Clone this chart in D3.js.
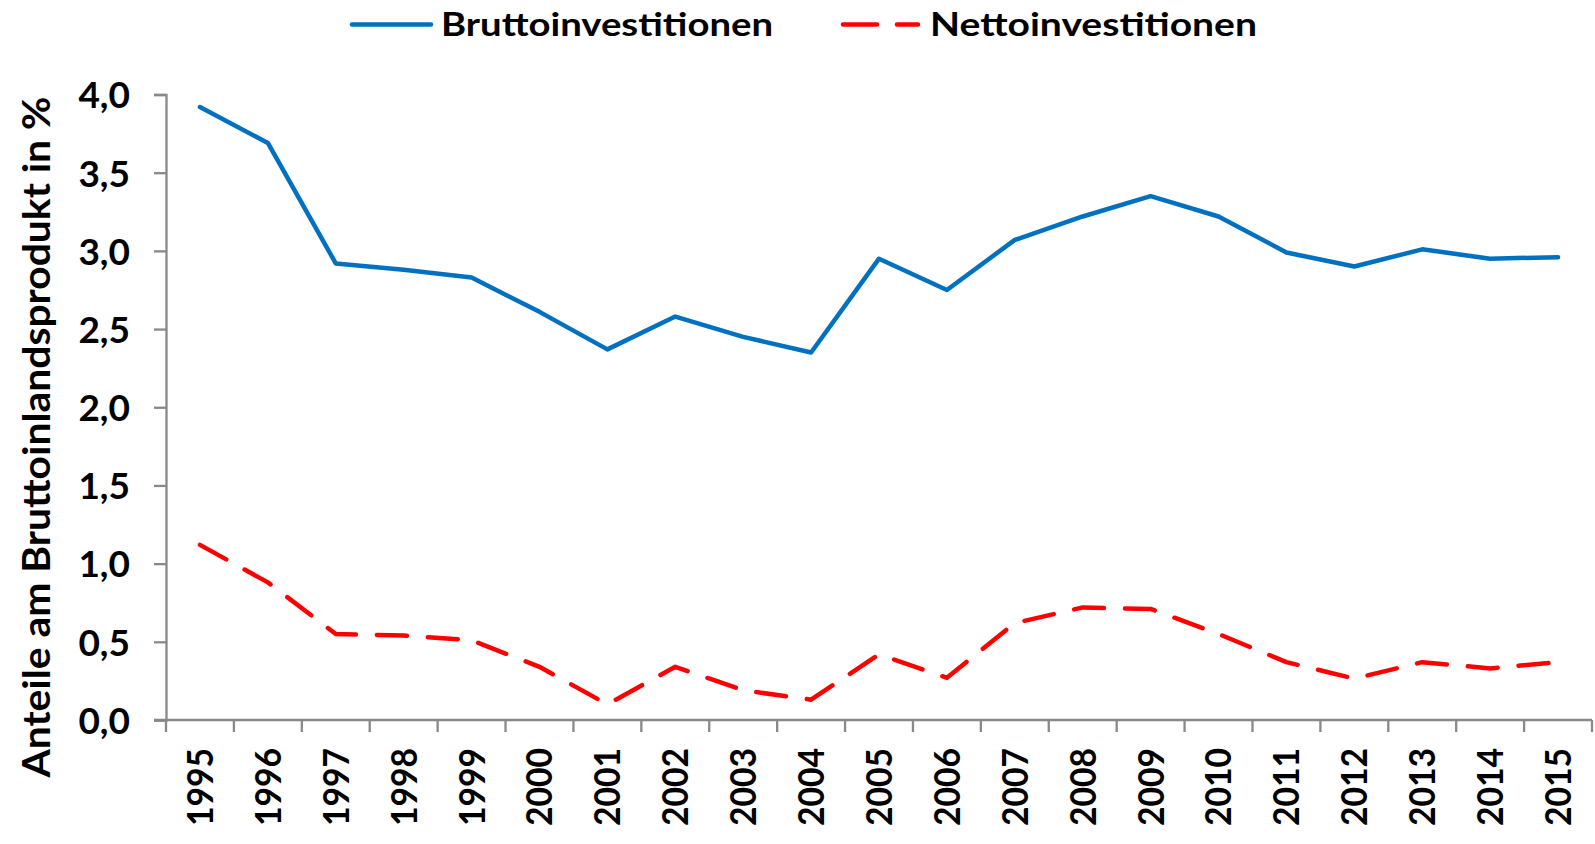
<!DOCTYPE html>
<html>
<head>
<meta charset="utf-8">
<script src="https://cdn.jsdelivr.net/npm/d3@7"></script>
<style>
    html, body { margin: 0; padding: 0; background: #fff; }
    text { font-family: "Lato", "Open Sans", sans-serif; font-weight: 700; fill: #000; }
</style>
</head>
<body>
<div id="chart"></div>
<script>
const years = ["1995", "1996", "1997", "1998", "1999", "2000", "2001", "2002", "2003", "2004", "2005",
    "2006", "2007", "2008", "2009", "2010", "2011", "2012", "2013", "2014", "2015"];
const brutto = [3.92, 3.69, 2.92, 2.88, 2.83, 2.61, 2.37, 2.58, 2.45, 2.35, 2.95,
    2.75, 3.07, 3.22, 3.35, 3.22, 2.99, 2.90, 3.01, 2.95, 2.96];
const netto = [1.12, 0.88, 0.55, 0.54, 0.51, 0.34, 0.10, 0.34, 0.19, 0.13, 0.42,
    0.27, 0.62, 0.72, 0.71, 0.55, 0.37, 0.265, 0.37, 0.33, 0.37];
const yTicks = [0, 0.5, 1, 1.5, 2, 2.5, 3, 3.5, 4];
const seriesNames = ["Bruttoinvestitionen", "Nettoinvestitionen"];
const yTitle = "Anteile am Bruttoinlandsprodukt in %";

const width = 1595;
const height = 844;
const margin = { top: 94.5, right: 3, bottom: 124, left: 166 };

const blue = "#0070C0";
const red = "#FF0000";
const axisGrey = "#898989";

function drawChart(htmlID) {

    let svg = d3.select("#" + htmlID)
        .append("svg")
        .attr("width", width)
        .attr("height", height);

    // scales
    let x = d3.scaleBand()
        .domain(years)
        .range([margin.left, width - margin.right]);

    let y = d3.scaleLinear()
        .domain([0, 4])
        .range([height - margin.bottom, margin.top]);

    let fmt = d => d3.format(".1f")(d).replace(".", ",");

    // y axis
    let yAxis = svg.append("g")
        .attr("class", "axis")
        .attr("transform", "translate(" + margin.left + ",0)")
        .call(d3.axisLeft(y).tickValues(yTicks).tickFormat(fmt).tickSize(12).tickPadding(24));
    yAxis.select(".domain").attr("stroke", axisGrey).attr("stroke-width", 2.3);
    yAxis.selectAll(".tick line").attr("stroke", axisGrey).attr("stroke-width", 2.3);
    yAxis.selectAll(".tick text")
        .attr("font-size", 37)
        .attr("dy", "0.36em")
        .style("font-family", "Lato")
        .style("font-weight", 700);

    // x axis: ticks sit between the categories
    let yBase = y(0);
    let xAxis = svg.append("g").attr("class", "axis");
    xAxis.append("line")
        .attr("x1", margin.left - 12).attr("x2", width - margin.right)
        .attr("y1", yBase).attr("y2", yBase)
        .attr("stroke", axisGrey).attr("stroke-width", 2.3);
    let bounds = years.map(d => x(d)).concat([x(years[years.length - 1]) + x.bandwidth()]);
    xAxis.selectAll(".xtick")
        .data(bounds)
        .join("line")
        .attr("class", "xtick")
        .attr("x1", d => d).attr("x2", d => d)
        .attr("y1", yBase).attr("y2", yBase + 12)
        .attr("stroke", axisGrey).attr("stroke-width", 2.3);
    xAxis.selectAll(".xlabel")
        .data(years)
        .join("text")
        .attr("class", "xlabel")
        .attr("transform", d => "translate(" + (x(d) + x.bandwidth() / 2) + "," + (yBase + 28) + ") rotate(-90)")
        .attr("text-anchor", "end")
        .attr("dy", "0.36em")
        .attr("font-size", 36)
        .attr("textLength", 78)
        .attr("lengthAdjust", "spacingAndGlyphs")
        .text(d => d);

    // y title
    svg.append("text")
        .attr("transform", "translate(50,437) rotate(-90)")
        .attr("text-anchor", "middle")
        .attr("font-size", 38)
        .attr("textLength", 681)
        .attr("lengthAdjust", "spacingAndGlyphs")
        .text(yTitle);

    // lines
    let line = d3.line()
        .x((d, i) => x(years[i]) + x.bandwidth() / 2)
        .y(d => y(d));

    svg.append("path")
        .datum(brutto)
        .attr("fill", "none")
        .attr("stroke", blue)
        .attr("stroke-width", 4.5)
        .attr("stroke-linejoin", "round")
        .attr("stroke-linecap", "round")
        .attr("d", line);

    svg.append("path")
        .datum(netto)
        .attr("fill", "none")
        .attr("stroke", red)
        .attr("stroke-width", 4.5)
        .attr("stroke-linejoin", "round")
        .attr("stroke-linecap", "round")
        .attr("stroke-dasharray", "30 21")
        .attr("d", line);

    // legend
    let legend = svg.append("g").attr("class", "legend");
    let items = [
        { name: seriesNames[0], color: blue, dash: null, x1: 350, x2: 433, tx: 441, tw: 332 },
        { name: seriesNames[1], color: red, dash: "34 20", x1: 841, x2: 920, tx: 930, tw: 327 }
    ];
    items.forEach(it => {
        legend.append("line")
            .attr("x1", it.x1 + 2).attr("x2", it.x2 - 2)
            .attr("y1", 24.5).attr("y2", 24.5)
            .attr("stroke", it.color)
            .attr("stroke-width", 4.5)
            .attr("stroke-linecap", "round")
            .attr("stroke-dasharray", it.dash);
        legend.append("text")
            .attr("x", it.tx)
            .attr("y", 36)
            .attr("font-size", 33)
            .attr("textLength", it.tw)
            .attr("lengthAdjust", "spacingAndGlyphs")
            .text(it.name);
    });
}

window.addEventListener('load', function () {
    drawChart("chart");
});
</script>
</body>
</html>
